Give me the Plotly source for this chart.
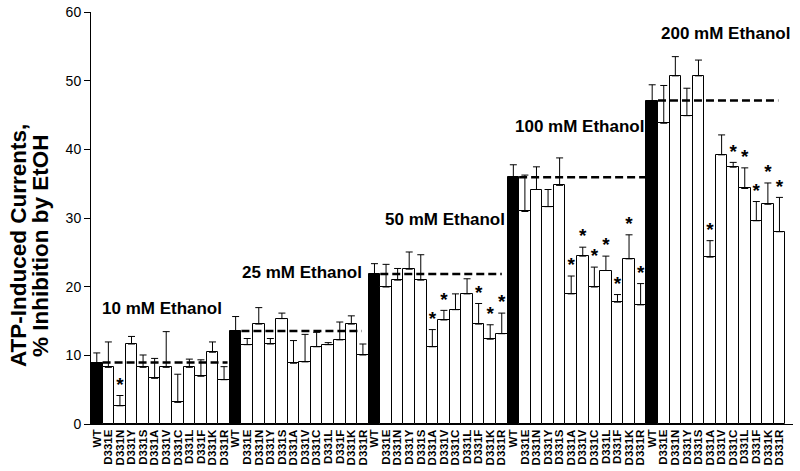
import plotly.graph_objects as go

groups = ["10 mM Ethanol", "25 mM Ethanol", "50 mM Ethanol", "100 mM Ethanol", "200 mM Ethanol"]
variants = ["WT", "D331E", "D331N", "D331Y", "D331S", "D331A", "D331V",
            "D331C", "D331L", "D331F", "D331K", "D331R"]

vals_10 = [8.95, 8.25, 2.65, 11.65, 8.25, 6.65, 8.25, 3.15, 8.25, 6.95, 10.45, 6.45]
err_10 = [1.4, 3.7, 1.5, 1.1, 1.8, 2.9, 5.2, 4.1, 1.2, 2.4, 1.5, 1.9]
vals_25 = [13.55, 11.55, 14.55, 11.65, 15.35, 8.85, 9.05, 11.25, 11.55, 12.25, 14.55, 10.05]
err_25 = [2.1, 0.9, 2.4, 0.8, 0.8, 3.3, 4.0, 2.1, 0.3, 2.6, 1.2, 1.6]
vals_50 = [21.85, 19.95, 20.95, 22.55, 20.95, 11.25, 15.15, 16.65, 18.95, 14.55, 12.35, 13.15]
err_50 = [1.5, 3.3, 1.7, 2.5, 3.7, 2.5, 1.4, 2.3, 2.2, 3.0, 2.1, 3.0]
vals_100 = [35.95, 30.95, 34.15, 31.65, 34.75, 18.95, 24.45, 19.95, 22.35, 17.75, 24.05, 17.35]
err_100 = [1.8, 5.3, 3.3, 2.5, 4.0, 2.6, 1.3, 2.9, 2.1, 1.1, 3.5, 3.1]
vals_200 = [47.1, 43.8, 50.7, 44.9, 50.7, 24.3, 39.2, 37.4, 34.3, 29.6, 32.0, 28.0]
err_200 = [2.3, 5.5, 2.8, 4.0, 2.3, 2.4, 2.9, 0.7, 3.0, 2.8, 3.1, 5.0]
stars_10 = [0, 0, 1, 0, 0, 0, 0, 0, 0, 0, 0, 0]
stars_25 = [0, 0, 0, 0, 0, 0, 0, 0, 0, 0, 0, 0]
stars_50 = [0, 0, 0, 0, 0, 1, 1, 0, 0, 1, 1, 1]
stars_100 = [0, 0, 0, 0, 0, 1, 1, 1, 1, 1, 1, 1]
stars_200 = [0, 0, 0, 0, 0, 1, 0, 1, 1, 1, 1, 1]

all_vals = [vals_10, vals_25, vals_50, vals_100, vals_200]
all_errs = [err_10, err_25, err_50, err_100, err_200]
all_stars = [stars_10, stars_25, stars_50, stars_100, stars_200]

# layout helpers for group labels / dashed reference lines
label_y = [16.8, 22.1, 29.8, 43.35, 56.9]
label_dx = [5.6, 5.75, 6.1, 5.75, 6.3]
dash_end = [11.3, 10.9, 11.0, 11.5, 10.9]

FONT = "Arial, Liberation Sans, sans-serif"
n = len(variants)
xs, ys, es, cols, ticktext = [], [], [], [], []
sx, sy = [], []
for g in range(len(groups)):
    for i, v in enumerate(variants):
        x = g * n + i
        xs.append(x)
        ys.append(all_vals[g][i])
        es.append(all_errs[g][i])
        cols.append("black" if v == "WT" else "white")
        ticktext.append("<b>%s</b>" % v)
        if all_stars[g][i]:
            sx.append(x)
            sy.append(all_vals[g][i] + all_errs[g][i])

fig = go.Figure()
fig.add_trace(go.Bar(
    x=xs, y=ys, width=1.0,
    marker=dict(color=cols, line=dict(color="black", width=1)),
    error_y=dict(type="data", array=es, arrayminus=[0] * len(es), symmetric=False,
                 color="black", thickness=1, width=3.5),
    showlegend=False, hoverinfo="x+y",
))

for g in range(len(groups)):
    wt = all_vals[g][0]
    fig.add_trace(go.Scatter(
        x=[g * n + 0.5, g * n + dash_end[g]], y=[wt, wt], mode="lines",
        line=dict(color="black", width=2.5, dash="8px,4px"), showlegend=False, hoverinfo="skip",
    ))
    fig.add_annotation(x=g * n + label_dx[g], y=label_y[g], text="<b>%s</b>" % groups[g],
                       showarrow=False, font=dict(family=FONT, size=17, color="black"),
                       xanchor="center", yanchor="middle")

fig.add_trace(go.Scatter(
    x=sx, y=sy, mode="text", text=["<b>*</b>"] * len(sx), textposition="top center",
    textfont=dict(family=FONT, size=19, color="black"), showlegend=False, hoverinfo="skip",
))

# y-axis title (two rotated lines)
fig.add_annotation(xref="paper", yref="paper", x=0, y=0.432, xshift=-73,
                   text="<b>ATP-Induced Currents,</b>", textangle=-90, showarrow=False,
                   font=dict(family=FONT, size=22.5, color="black"),
                   xanchor="center", yanchor="middle")
fig.add_annotation(xref="paper", yref="paper", x=0, y=0.432, xshift=-51,
                   text="<b>% Inhibition by EtOH</b>", textangle=-90, showarrow=False,
                   font=dict(family=FONT, size=22.5, color="black"),
                   xanchor="center", yanchor="middle")

fig.update_layout(
    width=800, height=471,
    margin=dict(l=91, r=7, t=12.3, b=46.7, autoexpand=False),
    plot_bgcolor="white", paper_bgcolor="white",
    bargap=0,
    font=dict(family=FONT, color="black"),
)
fig.update_xaxes(
    range=[-0.5, 60.17], tickmode="array", tickvals=xs, ticktext=ticktext,
    tickangle=-90, tickfont=dict(family=FONT, size=11.5, color="black"),
    showline=True, linecolor="black", linewidth=1, showgrid=False, zeroline=False,
    ticks="", automargin=False,
)
fig.update_yaxes(
    range=[0, 60], tickvals=[0, 10, 20, 30, 40, 50, 60],
    tickfont=dict(family=FONT, size=14, color="black"),
    showline=True, linecolor="black", linewidth=1, showgrid=False, zeroline=False,
    ticks="outside", ticklen=6, tickcolor="black", automargin=False,
    tickprefix="<b>", ticksuffix="</b>",
)

fig.write_html("out.html", config={"displayModeBar": False},
               post_script="document.body.style.margin='0';document.body.style.overflow='hidden';")
